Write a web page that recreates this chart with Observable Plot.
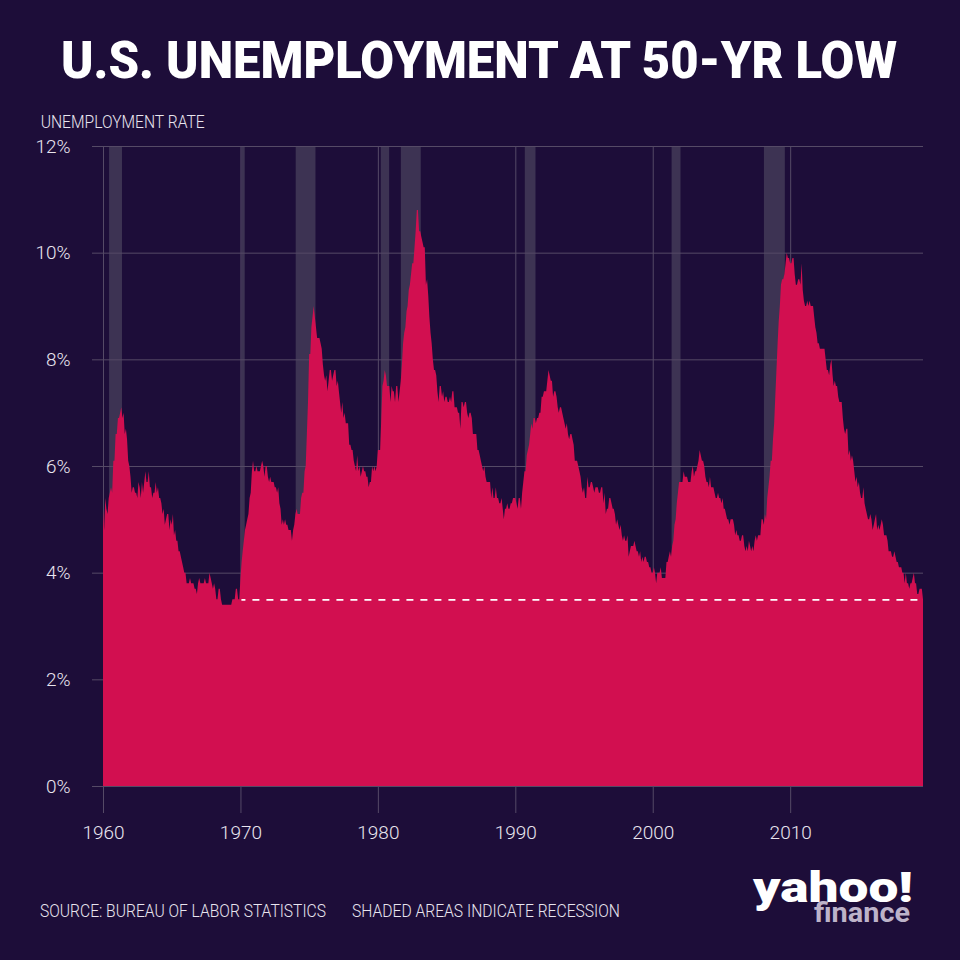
<!DOCTYPE html>
<html>
<head>
<meta charset="utf-8">
<script src="https://cdn.jsdelivr.net/npm/d3@7"></script>
<script src="https://cdn.jsdelivr.net/npm/@observablehq/plot@0.6"></script>
<style>
html, body { margin: 0; padding: 0; background: #1d0d39; }
#page { position: relative; width: 960px; height: 960px; background: #1d0d39; overflow: hidden; }
#page > svg { position: absolute; left: 0; }
</style>
</head>
<body>
<div id="page"></div>
<script>
// Monthly U.S. unemployment rate (%), Jan of first year of each decade onward
const rate1960s = [
  5.2,4.8,5.4,5.2,5.1,5.4,5.5,5.6,5.5,6.1,6.1,6.6,
  6.6,6.9,6.9,7.0,7.1,6.9,7.0,6.6,6.7,6.5,6.1,6.0,
  5.8,5.5,5.6,5.6,5.5,5.5,5.4,5.7,5.6,5.4,5.7,5.5,
  5.7,5.9,5.7,5.7,5.9,5.6,5.6,5.4,5.5,5.5,5.7,5.5,
  5.6,5.4,5.4,5.3,5.1,5.2,4.9,5.0,5.1,5.1,4.8,5.0,
  4.9,5.1,4.7,4.8,4.6,4.6,4.4,4.4,4.3,4.2,4.1,4.0,
  4.0,3.8,3.8,3.8,3.9,3.8,3.8,3.8,3.7,3.7,3.6,3.8,
  3.9,3.8,3.8,3.8,3.8,3.9,3.8,3.8,3.8,4.0,3.9,3.8,
  3.7,3.8,3.7,3.5,3.5,3.7,3.7,3.5,3.4,3.4,3.4,3.4,
  3.4,3.4,3.4,3.4,3.4,3.5,3.5,3.5,3.7,3.7,3.5,3.5
];
const rate1970s = [
  3.9,4.2,4.4,4.6,4.8,4.9,5.0,5.1,5.4,5.5,5.9,6.1,
  5.9,5.9,6.0,5.9,5.9,5.9,6.0,6.1,6.0,5.8,6.0,6.0,
  5.8,5.7,5.8,5.7,5.7,5.7,5.6,5.6,5.5,5.6,5.3,5.2,
  4.9,5.0,4.9,5.0,4.9,4.9,4.8,4.8,4.8,4.6,4.8,4.9,
  5.1,5.2,5.1,5.1,5.1,5.4,5.5,5.5,5.9,6.0,6.6,7.2,
  8.1,8.1,8.6,8.8,9.0,8.8,8.6,8.4,8.4,8.4,8.3,8.2,
  7.9,7.7,7.6,7.7,7.4,7.6,7.8,7.8,7.6,7.7,7.8,7.8,
  7.5,7.6,7.4,7.2,7.0,7.2,6.9,7.0,6.8,6.8,6.8,6.4,
  6.4,6.3,6.3,6.1,6.0,5.9,6.2,5.9,6.0,5.8,5.9,6.0,
  5.9,5.9,5.8,5.8,5.6,5.7,5.7,6.0,5.9,6.0,5.9,6.0
];
const rate1980s = [
  6.3,6.3,6.3,6.9,7.5,7.6,7.8,7.7,7.5,7.5,7.5,7.2,
  7.5,7.4,7.4,7.2,7.5,7.5,7.2,7.4,7.6,7.9,8.3,8.5,
  8.6,8.9,9.0,9.3,9.4,9.6,9.8,9.8,10.1,10.4,10.8,10.8,
  10.4,10.4,10.3,10.2,10.1,10.1,9.4,9.5,9.2,8.8,8.5,8.3,
  8.0,7.8,7.8,7.7,7.4,7.2,7.5,7.5,7.3,7.4,7.2,7.3,
  7.3,7.2,7.2,7.3,7.2,7.4,7.4,7.1,7.1,7.1,7.0,7.0,
  6.7,7.2,7.2,7.1,7.2,7.2,7.0,6.9,7.0,7.0,6.9,6.6,
  6.6,6.6,6.6,6.3,6.3,6.2,6.1,6.0,5.9,6.0,5.8,5.7,
  5.7,5.7,5.7,5.4,5.6,5.4,5.4,5.6,5.4,5.4,5.3,5.3,
  5.4,5.2,5.0,5.2,5.2,5.3,5.2,5.2,5.3,5.3,5.4,5.4
];
const rate1990s = [
  5.4,5.3,5.2,5.4,5.4,5.2,5.5,5.7,5.9,5.9,6.2,6.3,
  6.4,6.6,6.8,6.7,6.9,6.9,6.8,6.9,6.9,7.0,7.0,7.3,
  7.3,7.4,7.4,7.4,7.6,7.8,7.7,7.6,7.6,7.3,7.4,7.4,
  7.3,7.1,7.0,7.1,7.1,7.0,6.9,6.8,6.7,6.8,6.6,6.5,
  6.6,6.6,6.5,6.4,6.1,6.1,6.1,6.0,5.9,5.8,5.6,5.5,
  5.6,5.4,5.4,5.8,5.6,5.6,5.7,5.7,5.6,5.5,5.6,5.6,
  5.6,5.5,5.5,5.6,5.6,5.3,5.5,5.1,5.2,5.2,5.4,5.4,
  5.3,5.2,5.2,5.1,4.9,5.0,4.9,4.8,4.9,4.7,4.6,4.7,
  4.6,4.6,4.7,4.3,4.4,4.5,4.5,4.5,4.6,4.5,4.4,4.4,
  4.3,4.4,4.2,4.3,4.2,4.3,4.3,4.2,4.2,4.1,4.1,4.0
];
const rate2000s = [
  4.0,4.1,4.0,3.8,4.0,4.0,4.0,4.1,3.9,3.9,3.9,3.9,
  4.2,4.2,4.3,4.4,4.3,4.5,4.6,4.9,5.0,5.3,5.5,5.7,
  5.7,5.7,5.7,5.9,5.8,5.8,5.8,5.7,5.7,5.7,5.9,6.0,
  5.8,5.9,5.9,6.0,6.1,6.3,6.2,6.1,6.1,6.0,5.8,5.7,
  5.7,5.6,5.8,5.6,5.6,5.6,5.5,5.4,5.4,5.5,5.4,5.4,
  5.3,5.4,5.2,5.2,5.1,5.0,5.0,4.9,5.0,5.0,5.0,4.9,
  4.7,4.8,4.7,4.7,4.6,4.6,4.7,4.7,4.5,4.4,4.5,4.4,
  4.6,4.5,4.4,4.5,4.4,4.6,4.7,4.6,4.7,4.7,4.7,5.0,
  5.0,4.9,5.1,5.0,5.4,5.6,5.8,6.1,6.1,6.5,6.8,7.3,
  7.8,8.3,8.7,9.0,9.4,9.5,9.5,9.6,9.8,10.0,9.9,9.9
];
const rate2010s = [
  9.8,9.8,9.9,9.9,9.6,9.4,9.4,9.5,9.5,9.4,9.8,9.3,
  9.1,9.0,9.0,9.1,9.0,9.1,9.0,9.0,9.0,8.8,8.6,8.5,
  8.3,8.3,8.2,8.2,8.2,8.2,8.2,8.0,7.8,7.8,7.7,7.9,
  8.0,7.7,7.5,7.6,7.5,7.5,7.3,7.2,7.2,7.2,6.9,6.7,
  6.6,6.7,6.7,6.2,6.3,6.1,6.2,6.1,5.9,5.7,5.8,5.6,
  5.7,5.5,5.4,5.4,5.6,5.3,5.2,5.1,5.0,5.0,5.1,5.0,
  4.8,4.9,5.0,5.1,4.8,4.9,4.8,4.9,5.0,4.9,4.7,4.7,
  4.7,4.6,4.4,4.4,4.4,4.3,4.3,4.4,4.3,4.2,4.2,4.1,
  4.1,4.1,4.0,4.0,3.8,4.0,3.8,3.8,3.7,3.8,3.8,3.9,
  4.0,3.8,3.8,3.6,3.6,3.7,3.7,3.7,3.5
];
const startYear = 1960;

// Recession shading (decimal years, as drawn in the reference)
const recStart = [1960.44, 1970.07, 1974.02, 1980.21, 1981.67, 1990.69, 2001.37, 2008.09];
const recEnd   = [1961.38, 1970.31, 1975.46, 1980.82, 1983.12, 1991.47, 2002.02, 2009.61];

// Reference level: 50-year low
const lowRate = 3.5;
const lowSince = 1970.07;

const yTicks = [0, 2, 4, 6, 8, 10, 12];
const xTickYears = [1960, 1970, 1980, 1990, 2000, 2010];

const title = "U.S. UNEMPLOYMENT AT 50-YR LOW";
const yLabel = "UNEMPLOYMENT RATE";
const sourceText = "SOURCE: BUREAU OF LABOR STATISTICS";
const noteText = "SHADED AREAS INDICATE RECESSION";
const logoTop = "yahoo!";
const logoBottom = "finance";

// ---- build table ----
const values = [].concat(rate1960s, rate1970s, rate1980s, rate1990s, rate2000s, rate2010s);
const data = values.map((v, i) => ({date: new Date(Date.UTC(startYear, i, 1)), rate: v}));
const yearDate = y => {
  const yr = Math.floor(y);
  const a = Date.UTC(yr, 0, 1), b = Date.UTC(yr + 1, 0, 1);
  return new Date(a + (y - yr) * (b - a));
};
const recessions = recStart.map((s, i) => ({start: yearDate(s), end: yearDate(recEnd[i])}));
const firstDate = data[0].date;
const lastDate = data[data.length - 1].date;
const xTicks = xTickYears.map(y => yearDate(y));

const GRID = "#554a66";
const TEXT = "#e9e5ef";
const PINK = "#d20f50";
const BAND = "#3d3353";
const FONT = "Roboto, 'Noto Sans', sans-serif";

const page = document.getElementById("page");

// ---- text layer ----
const txt = d3.create("svg").attr("width", 960).attr("height", 960).style("top", "0px");
function addText(s, x, y, size, weight, fill, len) {
  txt.append("text")
    .attr("x", x).attr("y", y)
    .attr("font-family", FONT)
    .attr("font-size", size).attr("font-weight", weight)
    .attr("fill", fill)
    .attr("textLength", len).attr("lengthAdjust", "spacingAndGlyphs")
    .text(s);
}
addText(title, 61, 77.5, 52, 900, "#ffffff", 836);
addText(yLabel, 40.7, 128.3, 18, 300, TEXT, 164);
addText(sourceText, 40, 917, 18, 300, TEXT, 286);
addText(noteText, 352, 917, 18, 300, TEXT, 268);

// logo as one text block with two lines
const logo = txt.append("text").attr("font-family", FONT);
logo.append("tspan")
  .attr("x", 753).attr("y", 901.5)
  .attr("font-size", 42).attr("font-weight", 900).attr("fill", "#ffffff")
  .attr("textLength", 160).attr("lengthAdjust", "spacingAndGlyphs")
  .text(logoTop);
logo.append("tspan")
  .attr("x", 814).attr("y", 921.5)
  .attr("font-size", 27).attr("font-weight", 700).attr("fill", "#bdb3c9")
  .attr("textLength", 96).attr("lengthAdjust", "spacingAndGlyphs")
  .text(logoBottom);
page.appendChild(txt.node());

// ---- chart ----
const chart = Plot.plot({
  width: 960,
  height: 714,
  marginLeft: 103,
  marginRight: 37,
  marginTop: 16,
  marginBottom: 58,
  style: {background: "transparent", fontFamily: FONT, fontSize: "19px", fontWeight: 300, color: TEXT, overflow: "visible"},
  x: {type: "utc", domain: [firstDate, lastDate]},
  y: {domain: [0, 12]},
  marks: [
    Plot.rect(recessions, {x1: "start", x2: "end", fill: BAND}),
    Plot.ruleY(yTicks, {stroke: GRID, strokeWidth: 1}),
    Plot.ruleX(xTicks, {stroke: GRID, strokeWidth: 1}),
    Plot.areaY(data, {x: "date", y: "rate", fill: PINK}),
    Plot.ruleY([0], {stroke: GRID, strokeWidth: 1}),
    Plot.ruleY([{y: lowRate, x1: yearDate(lowSince), x2: lastDate}],
      {y: "y", x1: "x1", x2: "x2", stroke: "#ffffff", strokeWidth: 1.6, strokeDasharray: "7,7", strokeDashoffset: 3}),
    Plot.axisY(yTicks, {tickSize: 11, tickPadding: 22, tickFormat: d => d + "%", stroke: GRID, fill: TEXT, label: null}),
    Plot.axisX(xTicks, {tickSize: 27, tickPadding: 12, tickFormat: d3.utcFormat("%Y"), stroke: GRID, fill: TEXT, label: null})
  ]
});
chart.style.top = "130px";
page.appendChild(chart);
</script>
</body>
</html>
